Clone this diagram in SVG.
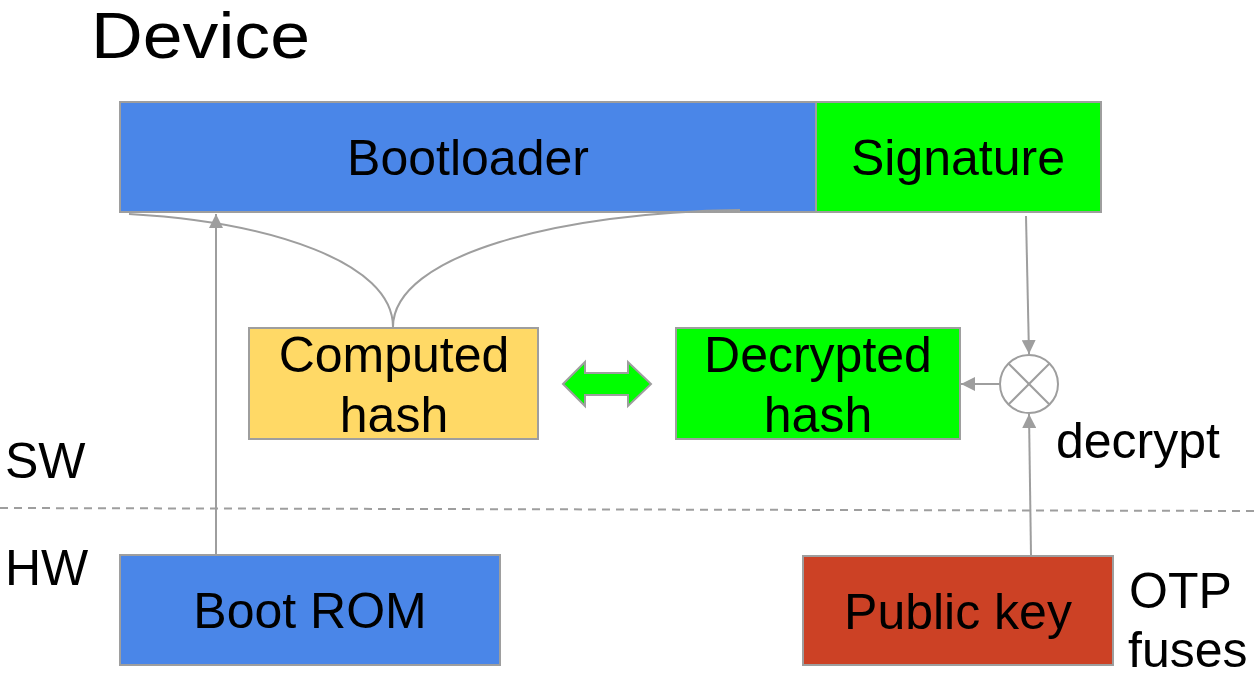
<svg xmlns="http://www.w3.org/2000/svg" width="1255" height="678" viewBox="0 0 1255 678">
  <style>
    .box { stroke: #9e9e9e; stroke-width: 2; }
    .lbl { font-family: "Liberation Sans", Arial, sans-serif; font-size: 50px; fill: #000; }
    .mid { text-anchor: middle; }
    .wire { fill: none; stroke: #9e9e9e; stroke-width: 2; }
  </style>
  <defs>
    <marker id="head" viewBox="0 0 14 14" refX="14" refY="7" markerWidth="14" markerHeight="14" orient="auto" markerUnits="userSpaceOnUse">
      <path d="M0,0 L14,7 L0,14 z" fill="#9e9e9e"/>
    </marker>
  </defs>

  <rect width="1255" height="678" fill="#fff"/>

  <text id="title" class="lbl" x="91" y="58" style="font-size:64px" textLength="219" lengthAdjust="spacingAndGlyphs">Device</text>

  <!-- divider between software and hardware -->
  <line x1="0" y1="508" x2="1255" y2="511" stroke="#9e9e9e" stroke-width="2" stroke-dasharray="8,6"/>
  <text class="lbl" x="5" y="478">SW</text>
  <text class="lbl" x="5" y="585">HW</text>

  <g id="bootloader">
    <rect class="box" x="120" y="102" width="696" height="110" fill="#4a86e8"/>
    <text class="lbl mid" x="468" y="175">Bootloader</text>
  </g>
  <g id="signature">
    <rect class="box" x="816" y="102" width="285" height="110" fill="#00ff00"/>
    <text class="lbl mid" x="958" y="175">Signature</text>
  </g>
  <g id="computed-hash">
    <rect class="box" x="249" y="328" width="289" height="111" fill="#ffd966"/>
    <text class="lbl mid" x="394" y="372">Computed</text>
    <text class="lbl mid" x="394" y="432">hash</text>
  </g>
  <g id="decrypted-hash">
    <rect class="box" x="676" y="328" width="284" height="111" fill="#00ff00"/>
    <text class="lbl mid" x="818" y="372">Decrypted</text>
    <text class="lbl mid" x="818" y="432">hash</text>
  </g>
  <g id="boot-rom">
    <rect class="box" x="120" y="555" width="380" height="110" fill="#4a86e8"/>
    <text class="lbl mid" x="310" y="628">Boot ROM</text>
  </g>
  <g id="public-key">
    <rect class="box" x="803" y="556" width="310" height="109" fill="#cc4125"/>
    <text class="lbl mid" x="958" y="629">Public key</text>
  </g>
  <g id="decrypt">
    <circle cx="1029" cy="384" r="29" fill="#fff" stroke="#9e9e9e" stroke-width="2"/>
    <line x1="1008.5" y1="363.5" x2="1049.5" y2="404.5" stroke="#9e9e9e" stroke-width="2"/>
    <line x1="1049.5" y1="363.5" x2="1008.5" y2="404.5" stroke="#9e9e9e" stroke-width="2"/>
    <text class="lbl" x="1056" y="458">decrypt</text>
  </g>
  <g id="otp-note">
    <text class="lbl" x="1129" y="608">OTP</text>
    <text class="lbl" x="1128" y="667">fuses</text>
  </g>

  <g id="connectors">
    <!-- hash computed over the bootloader image -->
    <path class="wire" d="M129,214 C270,222 393,262 393,327"/>
    <path class="wire" d="M393,327 C393,255 560,212 740,210"/>
    <!-- boot ROM loads bootloader -->
    <line class="wire" x1="216" y1="555" x2="216" y2="214" marker-end="url(#head)"/>
    <!-- signature into decrypt -->
    <line class="wire" x1="1026" y1="216" x2="1029" y2="354" marker-end="url(#head)"/>
    <!-- public key into decrypt -->
    <line class="wire" x1="1031" y1="555" x2="1029" y2="414" marker-end="url(#head)"/>
    <!-- decrypt output -->
    <line class="wire" x1="1000" y1="384" x2="961" y2="384" marker-end="url(#head)"/>
    <!-- compare -->
    <polygon points="563,384 585,362 585,373 628,373 628,362 651,384 628,406 628,395 585,395 585,406" fill="#00ff00" stroke="#9e9e9e" stroke-width="2" stroke-linejoin="miter"/>
  </g>
</svg>
